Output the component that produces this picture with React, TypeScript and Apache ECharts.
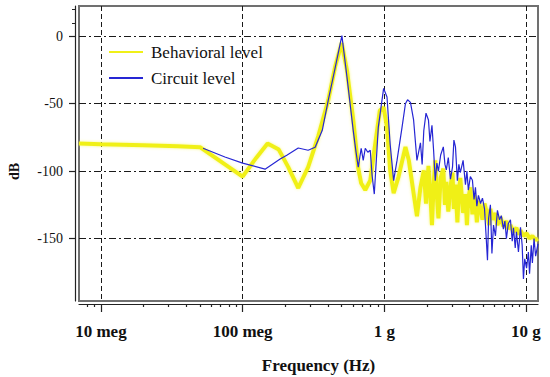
import { useEffect, useRef } from 'react';
import * as echarts from 'echarts';

const FONT = "'Liberation Serif', 'Times New Roman', serif";

// Frequency axis (log scale, Hz)
const freqMin = 7.0e6;
const freqMax = 1.216e10;
const freqTicks = [1e7, 1e8, 1e9, 1e10];
const freqTickLabels = ['10 meg', '100 meg', '1 g', '10 g'];
const freqMinorTicks = [
  8e6, 9e6,
  2e7, 3e7, 4e7, 5e7, 6e7, 7e7, 8e7, 9e7,
  2e8, 3e8, 4e8, 5e8, 6e8, 7e8, 8e8, 9e8,
  2e9, 3e9, 4e9, 5e9, 6e9, 7e9, 8e9, 9e9,
];

// Magnitude axis (dB)
const dbMin = -196.3;
const dbMax = 22.5;
const dbTicks = [-150, -100, -50, 0];
const dbMinorTicks = [10, 20];

// [frequency (Hz), magnitude (dB)]
const behavioralLevel: [number, number][] = [
  [7.0e6, -79.5], [1.0e7, -80.0], [2.0e7, -80.8], [3.5e7, -81.5], [5.0e7, -82.2],
  [7.5e7, -95.0], [1.0e8, -104.0], [1.25e8, -90.0], [1.5e8, -79.5], [1.8e8, -84.0],
  [2.1e8, -97.0], [2.47e8, -112.5], [2.9e8, -97.0], [3.42e8, -74.0], [4.02e8, -47.5],
  [4.51e8, -22.0], [5.0e8, -5.0], [5.45e8, -25.0], [6.04e8, -62.0], [6.55e8, -98.0],
  [6.87e8, -109.0], [7.34e8, -114.0], [7.96e8, -106.8], [8.64e8, -79.3], [9.3e8, -55.0],
  [9.89e8, -52.6], [1.045e9, -67.5], [1.10e9, -99.4], [1.164e9, -116.4], [1.26e9, -104.2],
  [1.41e9, -82.0], [1.49e9, -92.0], [1.61e9, -116.4], [1.70e9, -133.5], [1.80e9, -112.0],
  [1.90e9, -99.4], [1.97e9, -124], [2.05e9, -96], [2.12e9, -120], [2.17e9, -140],
  [2.23e9, -110], [2.29e9, -92], [2.35e9, -118], [2.41e9, -135], [2.5e9, -105],
  [2.61e9, -98], [2.68e9, -125], [2.74e9, -108], [2.83e9, -130], [2.93e9, -112],
  [3.03e9, -101], [3.1e9, -128], [3.18e9, -110], [3.28e9, -138], [3.36e9, -115],
  [3.44e9, -105], [3.6e9, -131], [3.74e9, -117], [3.83e9, -140], [3.92e9, -120],
  [4.05e9, -112], [4.19e9, -132], [4.3e9, -118], [4.4e9, -123], [4.5e9, -138],
  [4.62e9, -122], [4.78e9, -128], [4.93e9, -136], [5.1e9, -124], [5.35e9, -133],
  [5.5e9, -140], [5.61e9, -128], [5.8e9, -136], [6.09e9, -131], [6.29e9, -140],
  [6.6e9, -134], [6.93e9, -141], [7.28e9, -137], [7.5e9, -143], [7.77e9, -140],
  [8.16e9, -145], [8.57e9, -142], [8.85e9, -147], [9.15e9, -144], [9.6e9, -148],
  [1.01e10, -146], [1.06e10, -150], [1.11e10, -148], [1.17e10, -151], [1.216e10, -150],
];

const circuitLevel: [number, number][] = [
  [5.26e7, -83.0], [7.5e7, -89.5], [1.0e8, -94.0], [1.44e8, -98.5], [1.84e8, -91.0],
  [2.05e8, -88.2], [2.47e8, -82.8], [2.9e8, -84.5], [3.25e8, -82.3], [3.65e8, -69.7],
  [4.02e8, -47.5], [4.51e8, -22.8], [5.02e8, 0.5], [5.45e8, -30.0], [6.04e8, -70.0],
  [6.3e8, -85.0], [6.55e8, -97.0], [6.87e8, -83.0], [7.1e8, -92.0], [7.34e8, -83.0],
  [7.65e8, -86.0], [7.96e8, -84.5], [8.2e8, -103.0], [8.5e8, -117.0], [9.07e8, -67.5],
  [9.89e8, -38.6], [1.045e9, -45.0], [1.10e9, -80.0], [1.164e9, -107.0], [1.23e9, -92.0],
  [1.334e9, -67.5], [1.41e9, -50.0], [1.46e9, -47.0], [1.53e9, -49.0], [1.61e9, -62.0],
  [1.70e9, -92.0], [1.80e9, -79.0], [1.85e9, -95.0], [1.90e9, -70.0], [1.97e9, -57.0],
  [2.05e9, -62.0], [2.1e9, -78.0], [2.17e9, -66.0], [2.23e9, -85.0], [2.29e9, -107.0],
  [2.35e9, -94.0], [2.41e9, -100.0], [2.5e9, -88.0], [2.61e9, -82.0], [2.68e9, -95.0],
  [2.74e9, -99.0], [2.83e9, -90.0], [2.93e9, -106.0], [3.03e9, -97.0], [3.1e9, -77.0],
  [3.18e9, -82.0], [3.28e9, -107.0], [3.36e9, -95.0], [3.44e9, -101.0], [3.6e9, -92.0],
  [3.74e9, -110.0], [3.83e9, -100.0], [3.92e9, -114.0], [4.05e9, -104.0], [4.19e9, -106.8],
  [4.3e9, -121.0], [4.4e9, -112.0], [4.5e9, -126.0], [4.62e9, -118.0], [4.78e9, -124.0],
  [4.93e9, -120.0], [5.1e9, -128.0], [5.35e9, -166.0], [5.45e9, -135.0], [5.61e9, -125.0],
  [5.75e9, -161.0], [5.9e9, -140.0], [6.09e9, -148.0], [6.29e9, -129.0], [6.5e9, -136.0],
  [6.7e9, -133.0], [6.93e9, -143.0], [7.1e9, -137.0], [7.28e9, -150.0], [7.5e9, -139.0],
  [7.77e9, -136.0], [8.0e9, -152.0], [8.16e9, -142.0], [8.4e9, -157.0], [8.57e9, -145.0],
  [8.85e9, -160.0], [9.15e9, -141.6], [9.4e9, -155.0], [9.6e9, -180.0], [9.8e9, -165.0],
  [1.01e10, -172.0], [1.04e10, -160.0], [1.06e10, -176.0], [1.09e10, -155.0], [1.11e10, -168.0],
  [1.14e10, -150.0], [1.17e10, -163.0], [1.216e10, -154.0],
];

const freqLabel = (v: number) => {
  const i = freqTicks.findIndex((t) => Math.abs(Math.log10(t) - Math.log10(v)) < 0.01);
  return i >= 0 ? freqTickLabels[i] : '';
};

const axisColor = '#222';
const yellow = '#f0f018';
const blue = '#2626d4';

const option: any = {
  animation: false,
  backgroundColor: '#ffffff',
  grid: {
    left: 79,
    right: 12,
    top: 6,
    bottom: 76,
    show: true,
    borderColor: '#707070',
    borderWidth: 2,
    containLabel: false,
    outerBoundsMode: 'none',
  },
  legend: {
    orient: 'vertical',
    left: 103,
    top: 38,
    itemWidth: 34,
    itemHeight: 18,
    itemGap: 8,
    selectedMode: false,
    // line only, no marker in the legend sample
    itemStyle: { opacity: 0 },
    textStyle: {
      fontFamily: FONT,
      fontSize: 17,
      color: '#111',
      lineHeight: 18,
      padding: [0, 0, 0, 3],
    },
    data: ['Behavioral level', 'Circuit level'],
  },
  xAxis: [
    {
      type: 'log',
      logBase: 10,
      min: freqMin,
      max: freqMax,
      position: 'bottom',
      offset: 3,
      axisLine: { show: true, onZero: false, lineStyle: { color: axisColor, width: 1.2 } },
      axisTick: {
        show: true,
        inside: false,
        length: 8,
        customValues: freqTicks,
        lineStyle: { color: axisColor, width: 1.2 },
      },
      axisLabel: {
        customValues: freqTicks,
        formatter: freqLabel,
        margin: 19,
        color: '#111',
        fontFamily: FONT,
        fontSize: 17,
        fontWeight: 'bold',
      },
      splitLine: { show: true, lineStyle: { color: '#1a1a1a', width: 1, type: [5, 3] } },
      name: 'Frequency (Hz)',
      nameLocation: 'middle',
      nameGap: 53,
      nameTextStyle: {
        fontFamily: FONT,
        fontSize: 17,
        fontWeight: 'bold',
        color: '#111',
        padding: [0, 0, 0, 20],
      },
    },
    {
      type: 'log',
      logBase: 10,
      min: freqMin,
      max: freqMax,
      position: 'bottom',
      offset: 3,
      axisLine: { show: false, onZero: false },
      axisTick: {
        show: true,
        inside: false,
        length: 3,
        customValues: freqMinorTicks,
        lineStyle: { color: axisColor, width: 1.2 },
      },
      axisLabel: { show: false },
      splitLine: { show: false },
    },
  ],
  yAxis: [
    {
      type: 'value',
      min: dbMin,
      max: dbMax,
      position: 'left',
      offset: 4,
      axisLine: { show: true, onZero: false, lineStyle: { color: axisColor, width: 1.2 } },
      axisTick: {
        show: true,
        inside: false,
        length: 6,
        customValues: dbTicks,
        lineStyle: { color: axisColor, width: 1.2 },
      },
      axisLabel: {
        customValues: dbTicks,
        margin: 12,
        color: '#111',
        fontFamily: FONT,
        fontSize: 14,
      },
      splitLine: { show: true, lineStyle: { color: '#1a1a1a', width: 1, type: [7, 3, 2, 3] } },
      name: 'dB',
      nameLocation: 'middle',
      nameGap: 54,
      nameTextStyle: {
        fontFamily: FONT,
        fontSize: 14,
        fontWeight: 'bold',
        color: '#111',
        padding: [0, 36, 0, 0],
      },
    },
    {
      type: 'value',
      min: dbMin,
      max: dbMax,
      position: 'left',
      offset: 4,
      axisLine: { show: false, onZero: false },
      axisTick: {
        show: true,
        inside: false,
        length: 3,
        customValues: dbMinorTicks,
        lineStyle: { color: axisColor, width: 1 },
      },
      axisLabel: { show: false },
      splitLine: { show: false },
    },
  ],
  series: [
    {
      name: 'Behavioral level',
      type: 'line',
      xAxisIndex: 0,
      yAxisIndex: 0,
      data: behavioralLevel,
      symbol: 'none',
      silent: true,
      itemStyle: { color: yellow },
      lineStyle: {
        color: yellow,
        width: 4,
        shadowBlur: 3,
        shadowColor: 'rgba(245, 245, 90, 0.7)',
      },
    },
    {
      name: 'Circuit level',
      type: 'line',
      xAxisIndex: 0,
      yAxisIndex: 0,
      data: circuitLevel,
      symbol: 'none',
      silent: true,
      itemStyle: { color: blue },
      lineStyle: { color: blue, width: 1.2 },
    },
  ],
};

export default function App() {
  const ref = useRef<HTMLDivElement>(null);

  useEffect(() => {
    if (!ref.current) return;
    const chart = echarts.init(ref.current, null, { renderer: 'svg' });
    chart.setOption(option);
    return () => chart.dispose();
  }, []);

  return (
    <div
      ref={ref}
      style={{ position: 'fixed', left: 0, top: 0, width: 550, height: 377, background: '#fff' }}
    />
  );
}
